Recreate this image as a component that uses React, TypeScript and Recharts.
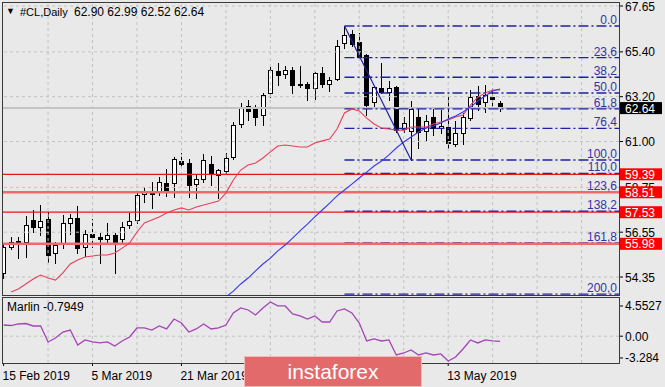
import React from "react";
import {
  ComposedChart,
  Bar,
  Line,
  Scatter,
  XAxis,
  YAxis,
  ReferenceLine,
} from "recharts";

// daily #CL candles, one per trading day starting 15 Feb 2019
const opens = [
  54.55, 55.82, 56.07, 56.07, 57.15, 56.81, 57.2, 55.53, 56.02, 57.0,
  57.25, 55.82, 56.46, 56.29, 56.22, 56.41, 56.22, 56.9, 57.15, 58.42,
  58.57, 58.52, 58.96, 58.96, 60.04, 59.95, 58.92, 59.16, 59.9, 59.36,
  59.55, 60.24, 61.86, 62.74, 62.6, 62.3, 63.38, 64.46, 64.31, 64.51,
  63.8, 63.82, 63.63, 64.36, 63.82, 64.07, 65.83, 66.27, 65.88, 65.25,
  62.94, 63.63, 63.43, 63.68, 61.61, 61.52, 62.2, 61.52, 62.2, 61.66,
  61.71, 60.88, 61.42, 62.15, 63.23, 62.94, 63.18, 62.9,
];
const highs = [
  55.92, 56.31, 56.31, 57.35, 57.64, 57.88, 57.54, 56.07, 57.39, 57.44,
  57.84, 56.66, 57.2, 56.51, 57.0, 56.51, 57.05, 57.49, 58.52, 58.77,
  59.01, 59.26, 59.65, 60.24, 60.44, 60.14, 59.36, 60.39, 60.29, 59.65,
  60.44, 61.96, 62.89, 63.04, 62.79, 63.38, 64.66, 64.85, 64.71, 64.66,
  64.71, 63.92, 64.41, 64.66, 64.17, 65.98, 66.67, 66.47, 66.33, 65.3,
  63.72, 64.85, 63.97, 63.72, 62.2, 62.99, 62.6, 62.3, 62.6, 62.55,
  63.18, 62.01, 62.4, 63.53, 63.72, 63.77, 63.63, 62.99,
];
const lows = [
  54.3, 55.73, 55.28, 55.33, 56.56, 56.41, 55.09, 55.04, 55.78, 56.46,
  55.53, 55.38, 55.82, 55.04, 56.02, 54.55, 56.02, 56.76, 57.0, 58.03,
  57.74, 58.38, 58.33, 58.28, 59.75, 58.28, 58.23, 59.01, 58.87, 58.23,
  59.46, 60.14, 61.71, 62.06, 61.81, 61.81, 63.18, 63.77, 64.12, 63.38,
  63.67, 63.04, 63.09, 63.68, 63.48, 64.02, 65.59, 65.69, 65.1, 62.3,
  62.64, 63.38, 63.04, 61.47, 61.47, 60.09, 60.68, 61.07, 61.32, 61.42,
  60.68, 60.78, 60.88, 62.06, 62.55, 62.45, 62.64, 62.52,
];
const closes = [
  55.82, 56.07, 56.12, 56.9, 56.81, 57.1, 55.43, 55.92, 57.0, 57.25,
  55.78, 56.46, 56.31, 56.22, 56.41, 55.97, 56.81, 57.1, 58.38, 58.5,
  58.42, 59.01, 58.57, 60.14, 59.9, 58.87, 59.16, 60.09, 59.46, 59.6,
  60.19, 61.81, 62.64, 62.5, 62.2, 63.28, 64.51, 64.26, 64.51, 63.77,
  63.75, 63.63, 64.36, 63.82, 64.02, 65.69, 66.23, 65.79, 65.15, 62.79,
  63.67, 63.43, 63.63, 61.57, 61.91, 62.6, 61.47, 62.01, 61.66, 61.76,
  60.93, 61.42, 62.2, 63.18, 62.84, 63.28, 63.09, 62.64,
];
const maRed = [
  null, 53.62, 53.76, 54.01, 54.25, 54.45, 54.3, 54.2, 54.55, 54.99,
  55.19, 55.33, 55.38, 55.43, 55.43, 55.53, 55.77, 56.02, 56.56, 57.0,
  57.15, 57.3, 57.49, 57.64, 57.74, 57.64, 57.79, 57.88, 57.98, 58.08,
  58.47, 59.11, 59.6, 59.85, 59.95, 60.19, 60.49, 60.78, 60.83, 60.78,
  60.73, 60.73, 60.93, 61.03, 61.12, 61.61, 62.4, 62.6, 62.5, 62.15,
  61.86, 61.66, 61.61, 61.56, 61.56, 61.71, 61.71, 61.71, 61.86, 61.96,
  62.06, 62.2, 62.3, 62.79, 63.18, 63.38, 63.53, 63.53,
];
const maBlue = [
  null, null, null, null, null, null, null, null, null, null,
  null, null, null, null, null, null, null, null, null, null,
  null, null, null, null, null, null, null, null, null, null,
  53.37, 53.66, 54.01, 54.3, 54.65, 54.99, 55.28, 55.63, 55.92, 56.26,
  56.61, 56.95, 57.3, 57.64, 57.98, 58.33, 58.62, 58.91, 59.21, 59.5,
  59.8, 60.04, 60.34, 60.68, 60.98, 61.22, 61.47, 61.66, 61.76, 61.91,
  62.1, 62.25, 62.45, 62.69, 62.99, 63.23, 63.48, 63.58,
];
const marlin = [
  1.69, 1.61, 1.84, 1.91, 1.54, 1.54, -0.87, -0.27, 0.63, 0.93,
  -1.33, -0.57, -0.87, -1.02, -0.87, -1.48, -0.72, -0.12, 1.24, 1.24,
  0.93, 1.54, 1.09, 2.59, 1.99, 0.63, 1.09, 1.84, 1.09, 1.24,
  1.69, 3.5, 4.26, 3.95, 3.2, 4.26, 5.16, 4.56, 4.56, 3.35,
  3.05, 2.59, 3.05, 2.14, 2.14, 3.8, 4.11, 3.5, 1.99, -0.72,
  -0.42, -0.72, -0.57, -2.83, -2.53, -2.08, -2.83, -2.53, -2.83, -2.68,
  -3.74, -3.13, -1.93, -0.57, -1.02, -0.57, -0.72, -0.79,
];

const priceTicks = [67.65, 65.4, 63.2, 61.0, 58.75, 56.55, 54.35];
const levelLines = [59.39, 58.51, 57.53, 55.98];
const thickLevels = [58.51, 55.98];
const lastPrice = 62.64;

const fibHigh = 66.67;
const fibLow = 60.09;
const fibStartBar = 46;
const fibEndBar = 55;
const fibRatios = [0, 23.6, 38.2, 50, 61.8, 76.4, 100, 110, 123.6, 138.2, 161.8, 200];
const fibLabels = ["0.0", "23,6", "38,2", "50,0", "61,8", "76,4", "100,0", "110,0", "123,6", "138,2", "161,8", "200,0"];

const marlinTicks = [4.5527, 0, -3.284];
const marlinTickLabels = ["4.5527", "0.00", "-3.284"];

// labels under the watermark are not visible in the picture, so only these four
const dateTickBars = [0, 12, 24, 60];
const dateTickLabels = ["15 Feb 2019", "5 Mar 2019", "21 Mar 2019", "13 May 2019"];
const gridBars = [6, 12, 18, 24, 30, 36, 42, 48, 54, 60, 66, 72, 78];

const X_MIN = -0.216;
const X_MAX = 83.05;
const Y_MIN = 53.468;
const Y_MAX = 67.846;
const O_MIN = -4.04;
const O_MAX = 5.757;

const FONT = "'Liberation Sans', Arial, sans-serif";
const BG = "#e9e9e9";
const GRID = "#c2c2c2";
const FIB = "#1f1fa6";

const bars = opens.map((o, i) => ({
  i,
  o,
  h: highs[i],
  l: lows[i],
  c: closes[i],
  r: maRed[i],
  b: maBlue[i],
}));

const osc = marlin.map((m, i) => ({ i, m }));

const fibPoints = fibRatios.map((r, k) => ({
  i: X_MAX,
  y: fibHigh - ((fibHigh - fibLow) * r) / 100,
  t: fibLabels[k],
}));

const Candle = (props: any) => {
  const { x, y, width, height, payload } = props;
  if (!payload) return null;
  const top = Math.min(y, y + height);
  const span = Math.abs(height);
  const { o, h, l, c } = payload;
  const k = h > l ? span / (h - l) : 0;
  const yOf = (v: number) => top + (h - v) * k;
  const left = Math.round(x + width / 2) - 2;
  const wx = left + 2.5;
  const bTop = Math.round(yOf(Math.max(o, c)));
  const bBot = Math.round(yOf(Math.min(o, c)));
  const up = c >= o;
  return (
    <g>
      <line x1={wx} x2={wx} y1={Math.round(top)} y2={Math.round(top + span) + 1} stroke="#000" strokeWidth={1} />
      {bBot - bTop < 1 ? (
        <line x1={left} x2={left + 5} y1={bTop + 0.5} y2={bTop + 0.5} stroke="#000" strokeWidth={1} />
      ) : (
        <rect x={left + 0.5} y={bTop + 0.5} width={4} height={bBot - bTop} fill={up ? "#fff" : "#000"} stroke="#000" strokeWidth={1} />
      )}
    </g>
  );
};

const FibText = (props: any) => {
  const { cx, cy, payload } = props;
  return (
    <text x={cx - 2} y={cy - 2} textAnchor="end" fontSize={12} fill="#3434a4">
      {payload.t}
    </text>
  );
};

const PriceTick = (props: any) => {
  const { x, y, payload } = props;
  const v = payload.value;
  const box = levelLines.includes(v) ? "#ff0000" : v === lastPrice ? "#000" : null;
  if (box) {
    return (
      <g>
        <rect x={x + 1} y={y - 6} width={42} height={12} fill={box} />
        <text x={x + 6} y={y + 4.5} fontSize={12} fill="#fff">
          {v.toFixed(2)}
        </text>
      </g>
    );
  }
  return (
    <g>
      <line x1={x} x2={x + 4} y1={y} y2={y} stroke="#000" />
      <text x={x + 6} y={y + 4.5} fontSize={12} fill="#000">
        {v.toFixed(2)}
      </text>
    </g>
  );
};

const OscTick = (props: any) => {
  const { x, y, payload } = props;
  const k = marlinTicks.indexOf(payload.value);
  return (
    <g>
      <line x1={x} x2={x + 4} y1={y} y2={y} stroke="#000" />
      <text x={x + 6} y={y + 4.5} fontSize={12} fill="#000">
        {marlinTickLabels[k]}
      </text>
    </g>
  );
};

const DateTick = (props: any) => {
  const { x, y, payload } = props;
  const k = dateTickBars.indexOf(payload.value);
  return (
    <g>
      <line x1={x} x2={x} y1={y} y2={y + 3} stroke="#000" />
      <text x={x - 1} y={y + 17} fontSize={12} fill="#000">
        {dateTickLabels[k]}
      </text>
    </g>
  );
};

export default function App() {
  return (
    <div
      style={{
        position: "absolute",
        left: 0,
        top: 0,
        width: 665,
        height: 387,
        background: BG,
        fontFamily: FONT,
        overflow: "hidden",
      }}
    >
      {/* price pane */}
      <div style={{ position: "absolute", left: 0, top: 0 }}>
        <ComposedChart width={665} height={295} data={bars} margin={{ top: 2, right: 0, bottom: 0, left: 2 }}>
          <XAxis type="number" dataKey="i" domain={[X_MIN, X_MAX]} allowDataOverflow hide />
          <YAxis
            orientation="right"
            width={46}
            domain={[Y_MIN, Y_MAX]}
            allowDataOverflow
            ticks={[...priceTicks, ...levelLines, lastPrice]}
            interval={0}
            axisLine={false}
            tickLine={false}
            tickSize={0}
            tickMargin={0}
            tick={<PriceTick />}
          />
          {gridBars.map((g) => (
            <ReferenceLine key={`vg${g}`} x={g} stroke={GRID} strokeDasharray="3 3" />
          ))}
          {priceTicks.map((v) => (
            <ReferenceLine key={`hg${v}`} y={v} stroke={GRID} strokeDasharray="3 3" />
          ))}
          <ReferenceLine y={lastPrice} stroke="#c4c4c4" strokeWidth={2} />
          {fibPoints.map((f) => (
            <ReferenceLine
              key={`fib${f.t}`}
              segment={[
                { x: fibStartBar, y: f.y },
                { x: X_MAX, y: f.y },
              ]}
              stroke={FIB}
              strokeWidth={1.4}
              strokeDasharray="10 3 2 3"
            />
          ))}
          {levelLines.map((v) => (
            <ReferenceLine
              key={`lv${v}`}
              y={v}
              stroke={thickLevels.includes(v) ? "#f06a6a" : "#e81818"}
              strokeWidth={thickLevels.includes(v) ? 2.6 : 1.2}
            />
          ))}
          <Bar
            dataKey={(d: any) => [d.l, d.h]}
            barSize={5}
            shape={<Candle />}
            isAnimationActive={false}
          />
          <Line type="linear" dataKey="r" stroke="#e5405a" strokeWidth={1.1} dot={false} activeDot={false} isAnimationActive={false} />
          <Line type="linear" dataKey="b" stroke="#3737ee" strokeWidth={1.1} dot={false} activeDot={false} isAnimationActive={false} />
          <ReferenceLine
            segment={[
              { x: fibStartBar, y: fibHigh },
              { x: fibEndBar, y: fibLow },
            ]}
            stroke={FIB}
            strokeWidth={1.2}
          />
          <Scatter data={fibPoints} dataKey="y" shape={<FibText />} isAnimationActive={false} />
        </ComposedChart>
      </div>

      {/* oscillator pane */}
      <div style={{ position: "absolute", left: 0, top: 297 }}>
        <ComposedChart width={665} height={90} data={osc} margin={{ top: 1, right: 0, bottom: 0, left: 2 }}>
          <XAxis
            type="number"
            dataKey="i"
            domain={[X_MIN, X_MAX]}
            allowDataOverflow
            ticks={dateTickBars}
            interval={0}
            height={24}
            axisLine={false}
            tickLine={false}
            tickSize={0}
            tickMargin={0}
            tick={<DateTick />}
          />
          <YAxis
            orientation="right"
            width={46}
            domain={[O_MIN, O_MAX]}
            allowDataOverflow
            ticks={marlinTicks}
            interval={0}
            axisLine={false}
            tickLine={false}
            tickSize={0}
            tickMargin={0}
            tick={<OscTick />}
          />
          {gridBars.map((g) => (
            <ReferenceLine key={`og${g}`} x={g} stroke={GRID} strokeDasharray="3 3" />
          ))}
          <ReferenceLine y={0} stroke={GRID} strokeDasharray="3 3" />
          <Line type="linear" dataKey="m" stroke="#a444b8" strokeWidth={1.3} dot={false} activeDot={false} isAnimationActive={false} />
        </ComposedChart>
      </div>

      {/* pane borders */}
      <div style={{ position: "absolute", left: 2, top: 2, width: 618, height: 294, boxSizing: "border-box", border: "1px solid #3a3a3a", pointerEvents: "none" }} />
      <div style={{ position: "absolute", left: 2, top: 297, width: 618, height: 67, boxSizing: "border-box", border: "1px solid #3a3a3a", pointerEvents: "none" }} />

      {/* title */}
      <div style={{ position: "absolute", left: 6, top: 6, fontSize: 9, lineHeight: "10px", color: "#000" }}>▼</div>
      <div style={{ position: "absolute", left: 20, top: 5, fontSize: 11, lineHeight: "14px", color: "#000" }}>#CL,Daily</div>
      <div style={{ position: "absolute", left: 74, top: 5, fontSize: 12, lineHeight: "14px", color: "#000", whiteSpace: "pre" }}>
        62.90 62.99 62.52 62.64
      </div>
      <div style={{ position: "absolute", left: 7, top: 300, fontSize: 12, lineHeight: "14px", color: "#000" }}>Marlin -0.7949</div>

      {/* watermark */}
      <div
        style={{
          position: "absolute",
          left: 244,
          top: 356,
          width: 178,
          height: 31,
          boxSizing: "border-box",
          background: "#e36a6a",
          border: "1px solid #f2b9b9",
          color: "#fff",
          fontSize: 21,
          lineHeight: "29px",
          textAlign: "center",
        }}
      >
        instaforex
      </div>
    </div>
  );
}
